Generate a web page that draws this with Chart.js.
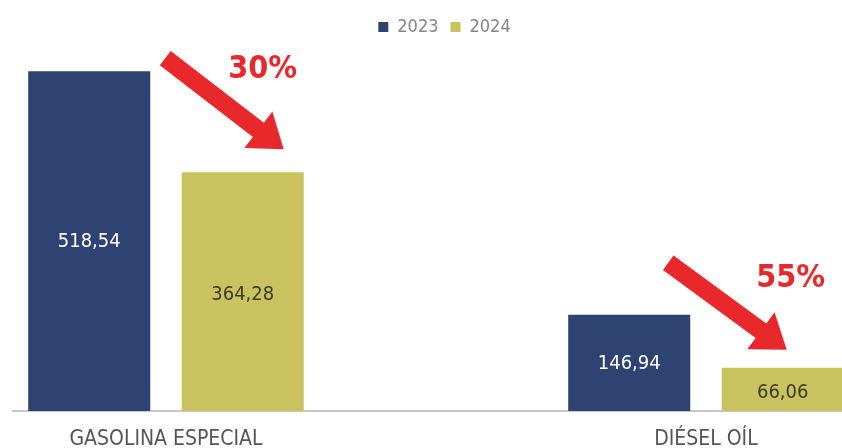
<!DOCTYPE html>
<html>
<head>
<meta charset="utf-8">
<script src="https://cdn.jsdelivr.net/npm/chart.js@4.4.1/dist/chart.umd.min.js"></script>
<style>
  html, body { margin: 0; padding: 0; background: #fff; overflow: hidden; }
  #wrap { width: 842px; height: 448px; }
</style>
</head>
<body>
<div id="wrap"><canvas id="chart"></canvas></div>
<script>
// chart data
const categories = ['GASOLINA ESPECIAL', 'DIÉSEL OÍL'];
const years = ['2023', '2024'];
const values2023 = [518.54, 146.94];
const values2024 = [364.28, 66.06];
const drops = ['30%', '55%'];

const FONT = '"Liberation Sans Narrow", "DejaVu Sans Condensed", "Liberation Sans", sans-serif';
const NAVY = '#2e4372';
const OLIVE = '#c9c25e';
const RED = '#e8282b';

// arrow offsets relative to the bars (tail from 2023 bar corner, tip from 2024 bar corner)
const arrowOffsets = [
  { tail: [15, -13], tip: [-20, -23], text: [20, -103] },
  { tail: [-22, -52], tip: [-57, -18], text: [8, -89] }
];

const fmt = v => v.toFixed(2).replace('.', ',');

// value labels inside the bars
const valueLabels = {
  id: 'valueLabels',
  afterDatasetsDraw(chart) {
    const ctx = chart.ctx;
    ctx.save();
    ctx.font = '20px ' + FONT;
    ctx.textAlign = 'center';
    ctx.textBaseline = 'middle';
    chart.data.datasets.forEach((ds, i) => {
      const meta = chart.getDatasetMeta(i);
      meta.data.forEach((bar, j) => {
        ctx.fillStyle = i === 0 ? '#ffffff' : '#3b3b2c';
        ctx.fillText(fmt(ds.data[j].y), bar.x, (bar.y + bar.base) / 2 + (i === 0 ? 1 : 3));
      });
    });
    ctx.restore();
  }
};

// red arrows with percentage drop
const dropArrows = {
  id: 'dropArrows',
  afterDatasetsDraw(chart) {
    const ctx = chart.ctx;
    const m0 = chart.getDatasetMeta(0);
    const m1 = chart.getDatasetMeta(1);
    ctx.save();
    categories.forEach((c, j) => {
      const b0 = m0.data[j], b1 = m1.data[j];
      const off = arrowOffsets[j];
      const x0 = b0.x + b0.width / 2 + off.tail[0], y0 = b0.y + off.tail[1];
      const x1 = b1.x + b1.width / 2 + off.tip[0], y1 = b1.y + off.tip[1];
      const ang = Math.atan2(y1 - y0, x1 - x0);
      const len = Math.hypot(x1 - x0, y1 - y0);
      const shaft = 9, head = 23, headLen = 32;
      ctx.save();
      ctx.translate(x0, y0);
      ctx.rotate(ang);
      ctx.beginPath();
      ctx.moveTo(0, -shaft);
      ctx.lineTo(len - headLen, -shaft);
      ctx.lineTo(len - headLen, -head);
      ctx.lineTo(len, 0);
      ctx.lineTo(len - headLen, head);
      ctx.lineTo(len - headLen, shaft);
      ctx.lineTo(0, shaft);
      ctx.closePath();
      ctx.fillStyle = RED;
      ctx.fill();
      ctx.restore();

      ctx.font = 'bold 32px ' + FONT;
      ctx.fillStyle = RED;
      ctx.textAlign = 'center';
      ctx.textBaseline = 'middle';
      ctx.fillText(drops[j], b1.x + off.text[0], b1.y + off.text[1]);
    });
    ctx.restore();
  }
};

// nudge the legend a little right of centre, as in the original
const legendShift = {
  id: 'legendShift',
  afterLayout(chart) {
    chart.legend.left += 17;
    chart.legend.right += 17;
  }
};

new Chart(document.getElementById('chart'), {
  type: 'bar',
  data: {
    datasets: [{
      label: years[0],
      data: values2023.map((v, i) => ({ x: i, y: v })),
      backgroundColor: NAVY
    }, {
      label: years[1],
      data: values2024.map((v, i) => ({ x: i, y: v })),
      backgroundColor: OLIVE
    }]
  },
  options: {
    responsive: true,
    maintainAspectRatio: false,
    animation: false,
    categoryPercentage: 0.5685,
    barPercentage: 0.795,
    layout: { padding: { top: 6, left: 13, right: 0, bottom: 0 } },
    plugins: {
      legend: {
        labels: {
          boxWidth: 10,
          boxHeight: 10,
          padding: 12,
          color: '#858585',
          font: { family: FONT, size: 18 }
        }
      },
      tooltip: { enabled: false }
    },
    scales: {
      x: {
        type: 'linear',
        offset: false,
        min: -0.2833,
        max: 1.2519,
        afterBuildTicks: scale => { scale.ticks = [{ value: 0 }, { value: 1 }]; },
        afterFit: scale => { scale.height = 37; },
        ticks: {
          padding: 10,
          maxRotation: 0,
          autoSkip: false,
          color: '#555555',
          font: { family: FONT, size: 21, lineHeight: 1 },
          callback: v => categories[v]
        },
        grid: { display: false },
        border: { color: '#c8c8c8', width: 2 }
      },
      y: {
        display: false,
        min: 0,
        max: 557
      }
    }
  },
  plugins: [valueLabels, dropArrows, legendShift]
});
</script>
</body>
</html>
